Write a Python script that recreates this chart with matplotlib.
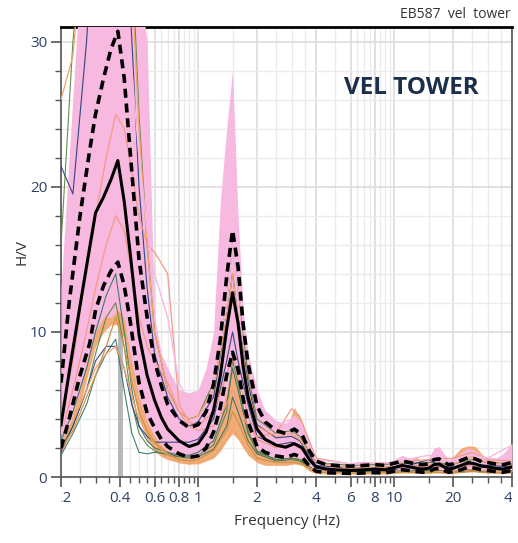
import matplotlib
matplotlib.use("Agg")
import matplotlib.pyplot as plt
from matplotlib.ticker import FixedLocator, NullFormatter
from matplotlib.transforms import Bbox, TransformedBbox

plt.rcParams['font.family'] = ['Open Sans', 'DejaVu Sans']

# H/V statistics on a common frequency grid
freq = [0.2, 0.22, 0.25, 0.28, 0.3, 0.33, 0.36, 0.39, 0.42, 0.45,
        0.5, 0.55, 0.6, 0.65, 0.7, 0.8, 0.9, 1.0, 1.1, 1.2,
        1.3, 1.4, 1.5, 1.6, 1.7, 1.8, 2.0, 2.2, 2.5, 2.8,
        3.1, 3.4, 3.7, 4.0, 4.5, 5.0, 6.0, 7.0, 8.0, 9.0,
        10, 11, 12, 13, 14, 15, 16, 17, 18, 19,
        20, 22, 24, 26, 28, 30, 33, 36, 40]

hv_mean = [3.6, 7.2, 11.8, 15.8, 18.2, 19.3, 20.5, 21.8, 19.0, 15.5,
           9.8, 7.0, 5.3, 4.1, 3.3, 2.5, 2.1, 2.3, 3.1, 4.6,
           7.0, 10.2, 12.7, 10.6, 7.6, 5.5, 3.3, 2.6, 2.2, 2.05,
           2.3, 2.0, 1.2, 0.7, 0.55, 0.5, 0.45, 0.5, 0.55, 0.5,
           0.65, 0.8, 0.7, 0.6, 0.55, 0.6, 0.85, 0.9, 0.7, 0.55,
           0.6, 0.8, 1.0, 0.9, 0.75, 0.7, 0.6, 0.55, 0.7]

hv_upper = [6.5, 12.0, 18.0, 22.5, 25.0, 27.5, 29.5, 30.7, 27.5, 22.5,
            15.0, 11.0, 8.0, 6.3, 5.0, 3.9, 3.4, 3.6, 4.5, 6.4,
            9.5, 13.8, 17.0, 14.5, 10.5, 7.8, 4.9, 3.8, 3.2, 3.0,
            3.3, 2.9, 1.8, 1.1, 0.85, 0.8, 0.75, 0.8, 0.85, 0.8,
            0.95, 1.1, 1.0, 0.9, 0.85, 0.9, 1.2, 1.25, 1.0, 0.85,
            0.9, 1.15, 1.35, 1.25, 1.05, 1.0, 0.9, 0.85, 1.0]

hv_lower = [2.0, 4.0, 7.0, 9.2, 11.5, 13.2, 14.2, 14.8, 13.2, 10.8,
            6.5, 4.4, 3.4, 2.6, 2.1, 1.6, 1.35, 1.45, 2.0, 3.1,
            4.8, 7.0, 8.6, 7.4, 5.4, 3.8, 2.1, 1.7, 1.45, 1.35,
            1.55, 1.35, 0.75, 0.4, 0.3, 0.28, 0.25, 0.28, 0.3, 0.28,
            0.4, 0.5, 0.45, 0.38, 0.33, 0.36, 0.55, 0.6, 0.45, 0.33,
            0.38, 0.5, 0.7, 0.6, 0.5, 0.45, 0.38, 0.33, 0.45]

# spread of the individual windows
pink_hi = [13, 22, 34, 34, 34, 34, 34, 34, 34, 34,
           34, 30, 11, 8.5, 7.5, 6.0, 5.8, 6.0, 7.5, 10.0,
           19, 24, 28, 18, 11.5, 8.5, 6.0, 4.6, 3.9, 3.7,
           4.3, 3.7, 2.4, 1.3, 1.0, 0.9, 1.0, 1.1, 1.0, 1.0,
           1.2, 1.5, 1.3, 1.2, 1.1, 1.3, 2.0, 2.1, 1.6, 1.2,
           1.3, 1.7, 2.0, 1.8, 1.5, 1.4, 1.3, 1.6, 2.3]

pink_lo = [2.0, 3.5, 6.0, 8.5, 10.0, 11.0, 11.0, 11.5, 11.0, 8.5,
           5.5, 3.8, 2.8, 2.2, 1.8, 1.4, 1.3, 1.3, 1.8, 2.6,
           4.0, 6.0, 7.5, 6.5, 4.6, 3.3, 1.9, 1.5, 1.3, 1.2,
           1.4, 1.2, 0.6, 0.35, 0.3, 0.3, 0.28, 0.3, 0.3, 0.3,
           0.35, 0.45, 0.4, 0.35, 0.3, 0.32, 0.45, 0.55, 0.42, 0.3,
           0.35, 0.45, 0.6, 0.55, 0.45, 0.4, 0.35, 0.3, 0.4]

orange_hi = [10, 18, 30, 34, 34, 34, 34, 34, 34, 30,
             24, 18, 11, 8, 6.5, 4.5, 4.0, 4.2, 5.0, 6.5,
             9.5, 14, 17, 13, 9.5, 7.0, 4.2, 3.2, 2.8, 3.2,
             4.8, 3.8, 2.0, 1.1, 0.85, 0.8, 0.85, 0.95, 0.9, 0.85,
             1.0, 1.2, 1.2, 1.4, 1.0, 1.1, 1.5, 1.6, 1.3, 1.1,
             1.4, 2.0, 2.15, 2.1, 1.6, 1.2, 1.1, 1.2, 1.6]

orange_lo = [1.6, 2.8, 5.0, 7.5, 9.0, 10.0, 10.5, 10.5, 9.5, 7.0,
             4.0, 2.6, 1.8, 1.4, 1.2, 1.0, 0.9, 0.9, 1.1, 1.3,
             1.8, 2.5, 3.0, 2.6, 2.0, 1.5, 1.0, 0.8, 0.8, 0.8,
             0.9, 0.8, 0.4, 0.25, 0.2, 0.2, 0.2, 0.2, 0.22, 0.2,
             0.25, 0.3, 0.3, 0.25, 0.22, 0.25, 0.3, 0.3, 0.25, 0.22,
             0.25, 0.3, 0.35, 0.35, 0.3, 0.28, 0.25, 0.22, 0.3]

# a few individual windows standing out of the bundle
freq_win = [0.2, 0.23, 0.27, 0.3, 0.34, 0.38, 0.42, 0.46, 0.5, 0.55,
            0.6, 0.7, 0.8, 0.9, 1.0, 1.2, 1.4, 1.5, 1.6, 1.8,
            2.0, 2.5, 3.0, 3.3, 4.0, 6.0, 10, 15, 20, 25, 30, 40]

win_teal_a = [2.5, 4.5, 7.5, 10, 12.5, 14, 10, 6, 3.5, 2.5,
              2.0, 1.7, 1.5, 1.5, 1.7, 2.5, 5.0, 7.5, 6.0, 3.0,
              1.8, 1.2, 1.3, 1.2, 0.4, 0.35, 0.4, 0.4, 0.4, 0.45, 0.4, 0.4]
win_teal_b = [1.5, 3.0, 5.0, 7.0, 8.5, 9.5, 6.0, 3.0, 1.7, 1.6,
              1.7, 1.6, 1.4, 1.3, 1.4, 1.9, 3.5, 5.5, 4.5, 2.5,
              1.6, 1.1, 1.2, 1.1, 0.35, 0.3, 0.35, 0.35, 0.3, 0.4, 0.35, 0.35]
win_green_a = [16, 30, 40, 40, 40, 40, 40, 36, 25, 16,
               10, 6, 4.5, 4, 4.2, 6.5, 12, 16, 13, 7,
               4, 3, 3.2, 2.8, 1.0, 0.8, 0.9, 1.0, 0.9, 1.2, 1.0, 0.9]
win_green_b = [2.0, 3.5, 6, 8.5, 11, 12, 9, 5, 3, 2.2,
               1.8, 1.5, 1.4, 1.4, 1.5, 2.2, 4.5, 8, 6.5, 3.2,
               1.7, 1.2, 1.3, 1.2, 0.4, 0.35, 0.4, 0.45, 0.4, 0.5, 0.4, 0.4]
win_navy_a = [1.8, 3.5, 6, 8, 9, 9, 7.5, 5, 3.5, 2.8,
              2.4, 2.4, 2.4, 2.4, 2.6, 4, 8, 10, 8, 5,
              2.8, 2.2, 2.4, 2.2, 0.6, 0.4, 0.5, 1.2, 0.3, 0.5, 0.3, 0.4]
win_navy_b = [21.4, 19.5, 30, 40, 40, 40, 40, 30, 20, 13,
              8.5, 5.5, 4.0, 3.5, 3.8, 5.5, 11, 14, 11, 6.5,
              3.6, 2.7, 2.8, 2.5, 0.8, 0.6, 0.7, 0.8, 0.7, 0.9, 0.8, 0.7]
win_orange_a = [26, 29, 40, 40, 40, 40, 40, 34, 24, 16,
                10, 6, 4.5, 4, 4.2, 6, 11, 14, 11, 6,
                3.5, 2.8, 3, 2.6, 1, 0.6, 0.7, 0.8, 0.9, 1.4, 1, 0.8]
win_orange_b = [2.3, 3.8, 6, 7.5, 8.5, 9, 7.5, 5.5, 4, 3,
                2.3, 1.5, 1.0, 0.9, 1.0, 1.4, 2.5, 3.3, 2.8, 1.8,
                1.2, 1.0, 1.1, 1.0, 0.4, 0.3, 0.35, 0.35, 0.4, 0.5, 0.4, 0.35]
win_salmon_a = [3, 6, 10, 13, 16, 18, 17, 14, 11, 9,
                8, 6.5, 4.5, 3.5, 3.2, 3.5, 5, 6, 5, 3.5,
                2.8, 3.0, 4.7, 4.2, 1.3, 0.9, 1.0, 1.2, 1.3, 1.7, 1.2, 1.1]
win_salmon_b = [4, 8, 14, 18, 22, 25, 24, 21, 18, 16,
                15.5, 14, 5, 3.8, 3.5, 4.5, 7, 8.5, 7, 4.2,
                2.6, 2.0, 2.3, 2.0, 0.7, 0.5, 0.6, 0.7, 0.6, 0.8, 0.6, 0.6]
win_gold = [2, 3.2, 5.5, 7, 9, 11, 9, 6.5, 4.5, 3.2,
            2.4, 1.6, 1.2, 1.1, 1.2, 1.8, 3.2, 4.5, 3.8, 2.2,
            1.3, 1.0, 1.0, 0.95, 0.35, 0.28, 0.3, 0.3, 0.3, 0.4, 0.3, 0.3]
win_pink = [3, 7, 14, 20, 26, 30, 32, 28, 22, 17,
            14, 11, 6.5, 5.0, 5.0, 6.5, 12, 16, 13, 8,
            4.5, 3.5, 4.0, 3.4, 1.2, 0.9, 1.0, 1.5, 1.0, 1.5, 1.3, 2.2]

f0_band = [0.39, 0.415]

x_major = [0.2, 0.4, 0.6, 0.8, 1, 2, 4, 6, 8, 10, 20, 40]
x_labels = ['0.2', '0.4', '0.6', '0.8', '1', '2', '4', '6', '8', '10', '20', '40']
x_minor = [0.25, 0.3, 0.35, 0.45, 0.5, 0.55, 0.65, 0.7, 0.75, 0.85, 0.9, 0.95,
           1.5, 2.5, 3, 3.5, 5, 6.5, 7, 7.5, 8.5, 9, 9.5, 15, 25, 30, 35]

PINK = '#f7b9e0'
ORANGE = '#f0a469'
SALMON = '#f29a86'
GOLD = '#cf9443'
TEAL = '#2f6e66'
GREEN = '#58803f'
NAVY = '#1f3a78'

fig = plt.figure(figsize=(5.18, 5.43), dpi=100)
ax = fig.add_axes([0.1178, 0.1215, 0.8707, 0.8288])

ax.set_xscale('log')
ax.set_xlim(0.2, 40)
ax.set_ylim(0, 31)

ax.axvspan(f0_band[0], f0_band[1], color='#aaaaaa', alpha=0.8, lw=0, zorder=1)

# bundle of windows
ax.fill_between(freq, orange_lo, orange_hi, color=ORANGE, lw=0, alpha=0.9, zorder=2)
ax.fill_between(freq, pink_lo, pink_hi, color=PINK, lw=0, zorder=3)

for vals, col in [(win_teal_a, TEAL), (win_teal_b, TEAL), (win_green_a, GREEN),
                  (win_green_b, GREEN), (win_navy_a, NAVY), (win_navy_b, NAVY)]:
    ax.plot(freq_win, vals, color=col, lw=0.8, alpha=0.9, zorder=4)

for vals, col in [(win_orange_a, ORANGE), (win_orange_b, ORANGE), (win_salmon_a, SALMON),
                  (win_salmon_b, SALMON), (win_gold, GOLD)]:
    ax.plot(freq_win, vals, color=col, lw=0.9, zorder=4)
ax.plot(freq_win, win_pink, color=PINK, lw=1.0, zorder=4)

# mean and +/- one standard deviation
ax.plot(freq, hv_mean, color='black', lw=2.2, zorder=6)
ax.plot(freq, hv_upper, color='black', lw=2.6, dashes=(2.5, 1.6), zorder=6)
ax.plot(freq, hv_lower, color='black', lw=2.6, dashes=(2.5, 1.6), zorder=6)

# axes, ticks, grid
ax.xaxis.set_major_locator(FixedLocator(x_major))
ax.xaxis.set_minor_locator(FixedLocator(x_minor))
ax.set_xticklabels(x_labels)
ax.xaxis.set_minor_formatter(NullFormatter())
ax.set_yticks([0, 10, 20, 30])
ax.set_yticks(range(0, 32, 2), minor=True)

ax.grid(which='major', color='#dcdcdc', lw=1.2, zorder=0)
ax.grid(which='minor', color='#ebebeb', lw=1.0, zorder=0)
ax.set_axisbelow(True)

tick_col = '#2f4266'
ax.tick_params(which='major', direction='out', length=7, width=1.2, color='#555555',
               labelsize=11, labelcolor=tick_col, pad=3)
ax.tick_params(which='minor', direction='out', length=4, width=1.0, color='#555555')

# x tick labels are cut at the plot edges
clip = TransformedBbox(Bbox([[0, -1], [1, 2]]), ax.transAxes)
for lbl in ax.get_xticklabels():
    lbl.set_clip_box(clip)
    lbl.set_clip_on(True)

for side in ['left', 'bottom', 'right']:
    ax.spines[side].set_color('#555555')
    ax.spines[side].set_linewidth(1.2)
ax.spines['top'].set_color('black')
ax.spines['top'].set_linewidth(2)

ax.set_xlabel('Frequency (Hz)', fontsize=11, color='#333333', labelpad=6)
ax.set_ylabel('H/V', fontsize=11, color='#333333', labelpad=0)

ax.text(0.776, 0.865, 'VEL TOWER', transform=ax.transAxes, ha='center', va='center',
        fontsize=17.5, fontweight='bold', color='#1b2f4b', zorder=8)
fig.text(0.985, 0.974, 'EB587  vel  tower', ha='right', va='center',
         fontsize=10, color='#333333')

fig.savefig('out.png', dpi=100)
